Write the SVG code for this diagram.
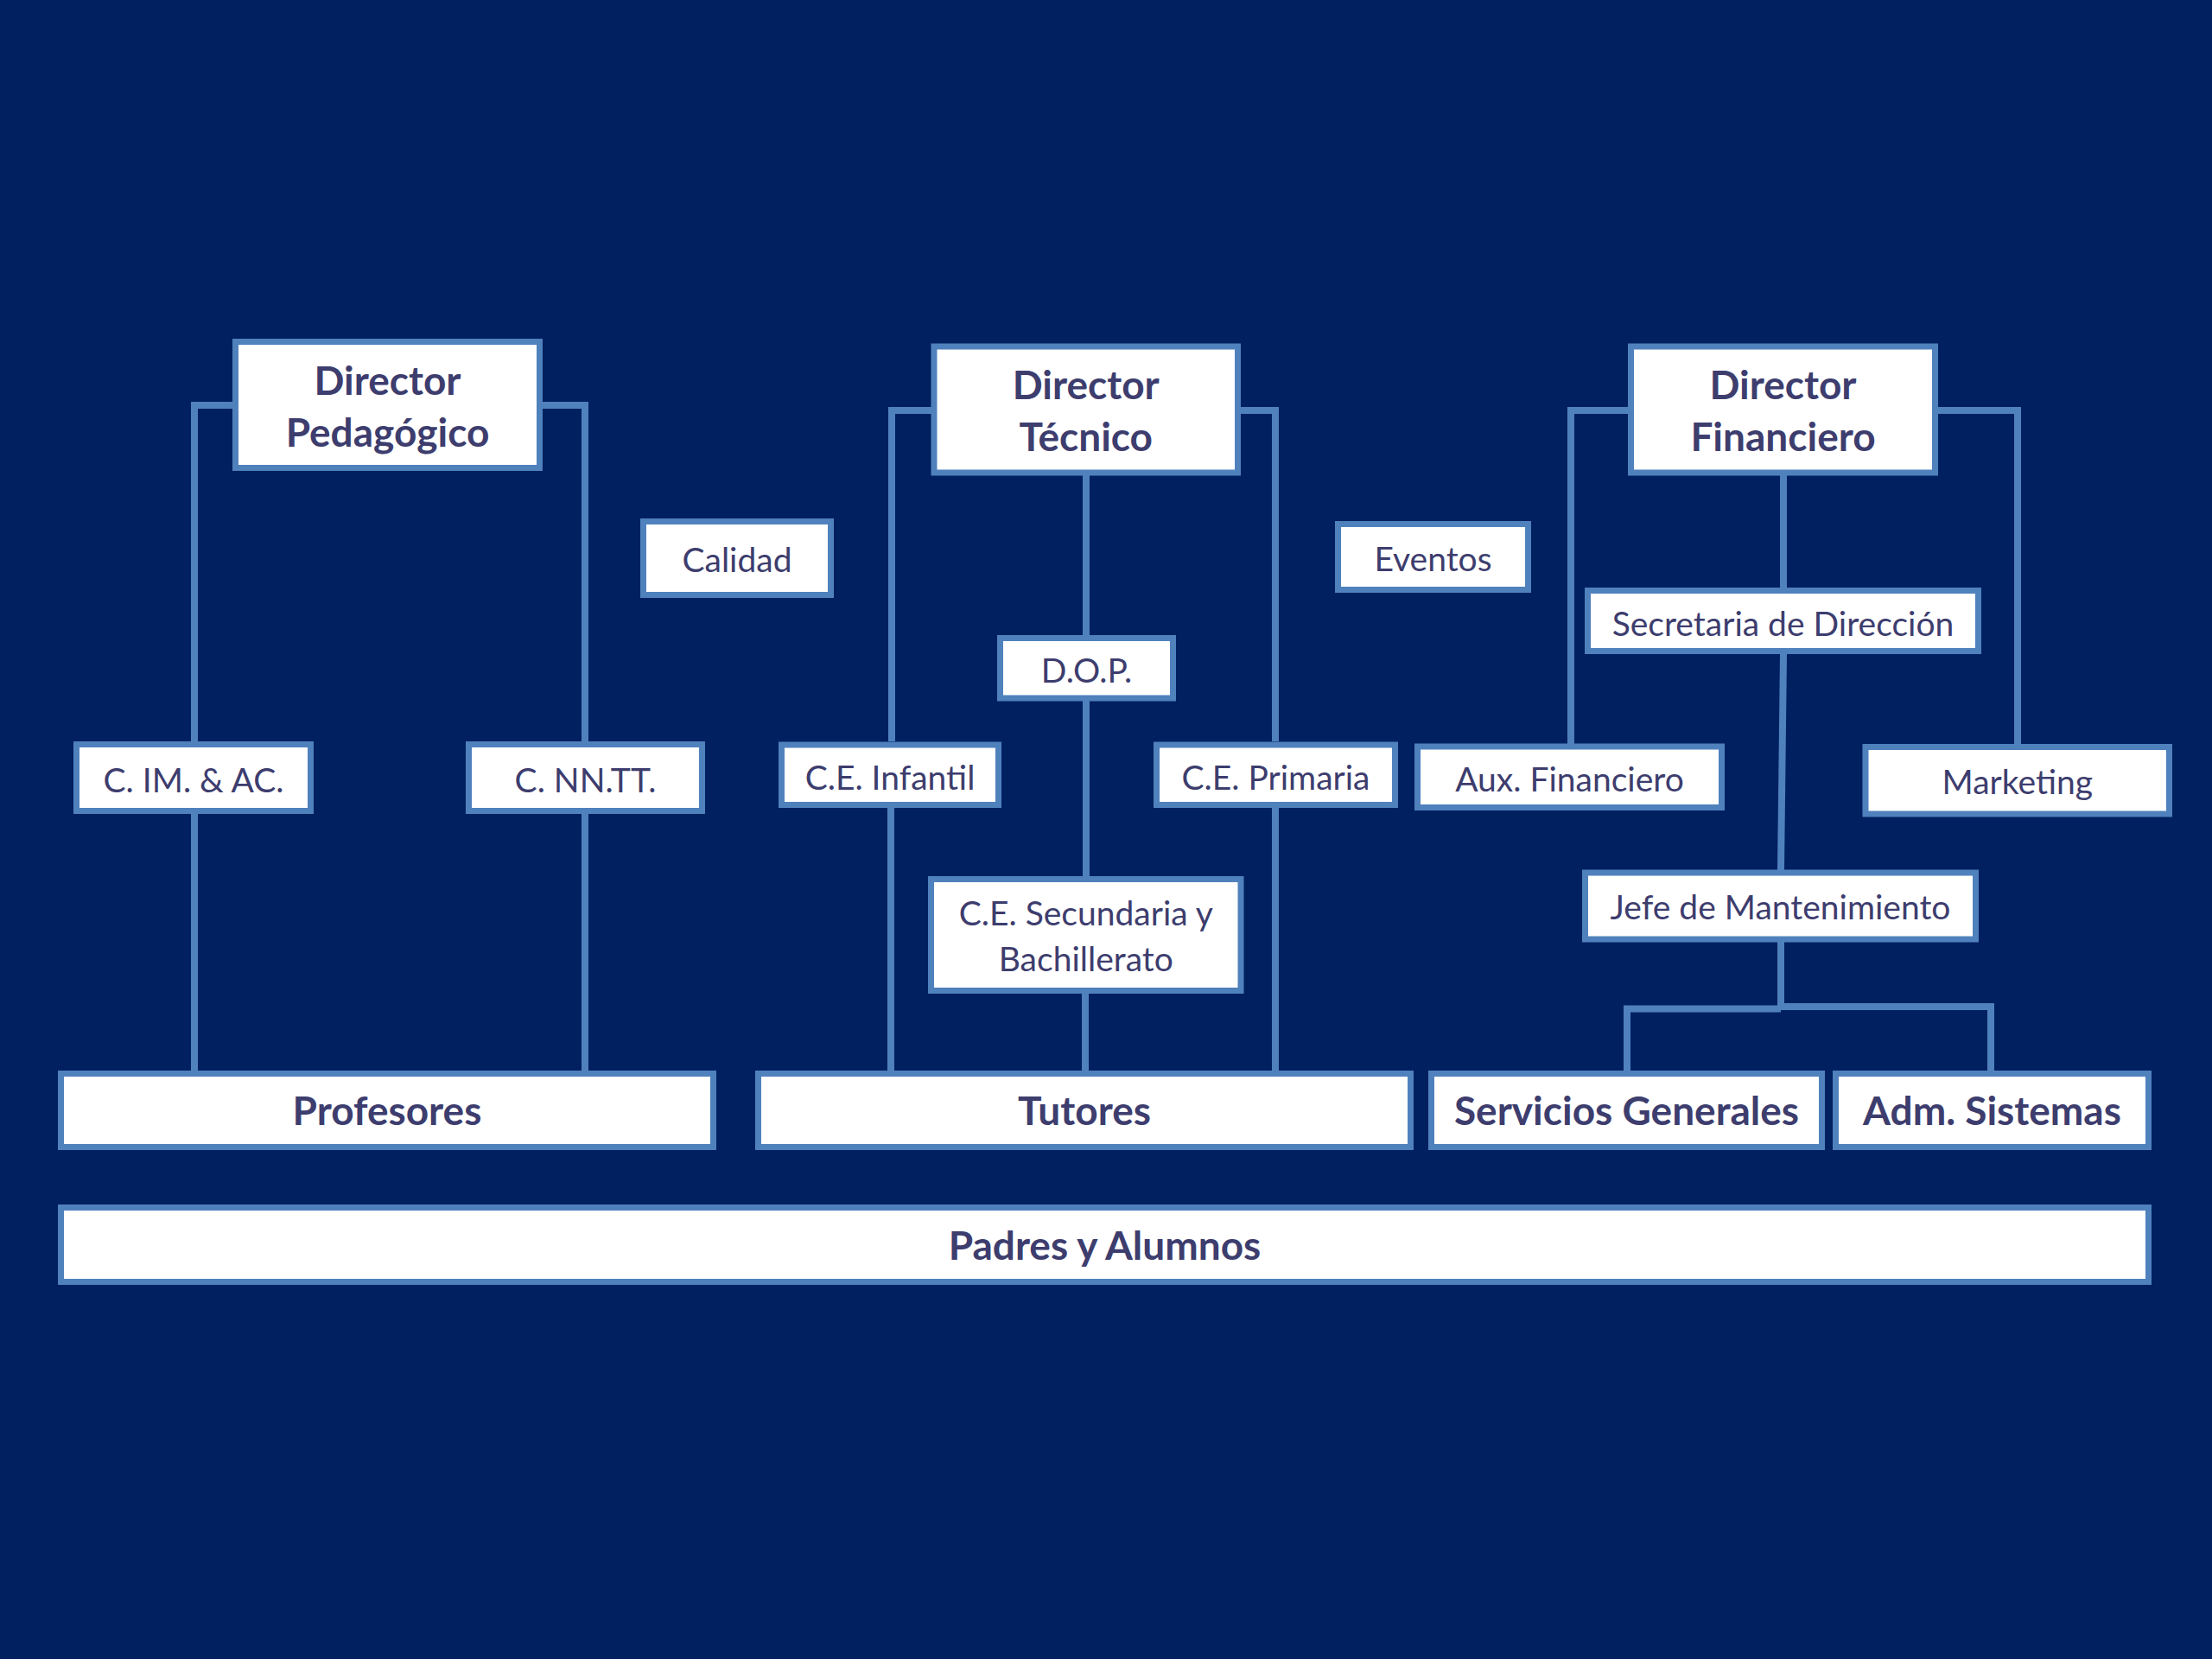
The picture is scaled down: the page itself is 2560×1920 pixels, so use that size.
<svg xmlns="http://www.w3.org/2000/svg" width="2560" height="1920" viewBox="0 0 2560 1920">
<style>
.box{fill:#ffffff;stroke:#4f81bd;stroke-width:7}
.conn{fill:none;stroke:#4f81bd;stroke-width:8;stroke-linejoin:miter}
text{font-family:Lato,"Open Sans","Liberation Sans",sans-serif;fill:#3d3d6e;text-anchor:middle}
.b{font-weight:bold;font-size:46px}
.r{font-size:39px}
</style>
<rect x="0" y="0" width="2560" height="1920" fill="#002060"/>
<g id="connectors">
<path class="conn" d="M269 469H225V858"/>
<path class="conn" d="M628 469H677V858"/>
<path class="conn" d="M225 942V1239"/>
<path class="conn" d="M677 942V1239"/>
<path class="conn" d="M1078 475H1032V858"/>
<path class="conn" d="M1436 475H1476V858"/>
<path class="conn" d="M1257 550V735"/>
<path class="conn" d="M1257 811V1014"/>
<path class="conn" d="M1256 1150V1239"/>
<path class="conn" d="M1031 935V1239"/>
<path class="conn" d="M1476 935V1239"/>
<path class="conn" d="M1884 475H1818V861"/>
<path class="conn" d="M2243 475H2335V861"/>
<path class="conn" d="M2064 550V680"/>
<path class="conn" d="M2064 757L2061 1007"/>
<path class="conn" d="M2061 1090V1167"/>
<path class="conn" d="M2061 1167.5H1883V1239"/>
<path class="conn" d="M2061 1165H2304V1239"/>
</g>
<g id="dir-pedagogico">
<rect class="box" x="272.5" y="395.5" width="352" height="146"/>
<text class="b" x="448.5" y="456.5">Director</text>
<text class="b" x="448.5" y="517">Pedagógico</text>
</g>
<g id="dir-tecnico">
<rect class="box" x="1081" y="401" width="351.5" height="146"/>
<text class="b" x="1256.75" y="462">Director</text>
<text class="b" x="1256.75" y="522">Técnico</text>
</g>
<g id="dir-financiero">
<rect class="box" x="1887.5" y="401" width="352" height="146"/>
<text class="b" x="2063.5" y="462">Director</text>
<text class="b" x="2063.5" y="522">Financiero</text>
</g>
<g id="calidad">
<rect class="box" x="744.5" y="603.5" width="217" height="85"/>
<text class="r" x="853" y="662">Calidad</text>
</g>
<g id="eventos">
<rect class="box" x="1548.5" y="606.5" width="220" height="76"/>
<text class="r" x="1658.5" y="661">Eventos</text>
</g>
<g id="secretaria">
<rect class="box" x="1837.5" y="683.5" width="452" height="70"/>
<text class="r" x="2063.5" y="736">Secretaria de Dirección</text>
</g>
<g id="dop">
<rect class="box" x="1157.5" y="738.5" width="200" height="69.5"/>
<text class="r" x="1257.5" y="790">D.O.P.</text>
</g>
<g id="c-im-ac">
<rect class="box" x="88.5" y="861.5" width="271" height="77"/>
<text class="r" x="224" y="916.5">C. IM. &amp; AC.</text>
</g>
<g id="c-nntt">
<rect class="box" x="542.5" y="861.5" width="270" height="77"/>
<text class="r" x="677.5" y="916.5">C. NN.TT.</text>
</g>
<g id="ce-infantil">
<rect class="box" x="904.5" y="862" width="251" height="69.5"/>
<text class="r" x="1030" y="913.5">C.E. Infantil</text>
</g>
<g id="ce-primaria">
<rect class="box" x="1338.5" y="862" width="276" height="69.5"/>
<text class="r" x="1476.5" y="913.5">C.E. Primaria</text>
</g>
<g id="aux-financiero">
<rect class="box" x="1640.5" y="864" width="352" height="70.5"/>
<text class="r" x="1816.5" y="916">Aux. Financiero</text>
</g>
<g id="marketing">
<rect class="box" x="2159" y="864.5" width="351.5" height="77.5"/>
<text class="r" x="2334.75" y="919">Marketing</text>
</g>
<g id="ce-secundaria">
<rect class="box" x="1077.5" y="1017.5" width="358.5" height="129"/>
<text class="r" x="1256.75" y="1071">C.E. Secundaria y</text>
<text class="r" x="1256.75" y="1124">Bachillerato</text>
</g>
<g id="jefe-mantenimiento">
<rect class="box" x="1834.5" y="1010" width="452" height="77"/>
<text class="r" x="2060.5" y="1063.5">Jefe de Mantenimiento</text>
</g>
<g id="profesores">
<rect class="box" x="70.5" y="1242.5" width="755" height="85"/>
<text class="b" x="448" y="1302">Profesores</text>
</g>
<g id="tutores">
<rect class="box" x="877.5" y="1242.5" width="755" height="85"/>
<text class="b" x="1255" y="1302">Tutores</text>
</g>
<g id="servicios-generales">
<rect class="box" x="1656.5" y="1242.5" width="452" height="85"/>
<text class="b" x="1882.5" y="1302">Servicios Generales</text>
</g>
<g id="adm-sistemas">
<rect class="box" x="2124.5" y="1242.5" width="362" height="85"/>
<text class="b" x="2305.5" y="1302">Adm. Sistemas</text>
</g>
<g id="padres-alumnos">
<rect class="box" x="70.5" y="1397.5" width="2416" height="86"/>
<text class="b" x="1278.5" y="1458">Padres y Alumnos</text>
</g>
</svg>
